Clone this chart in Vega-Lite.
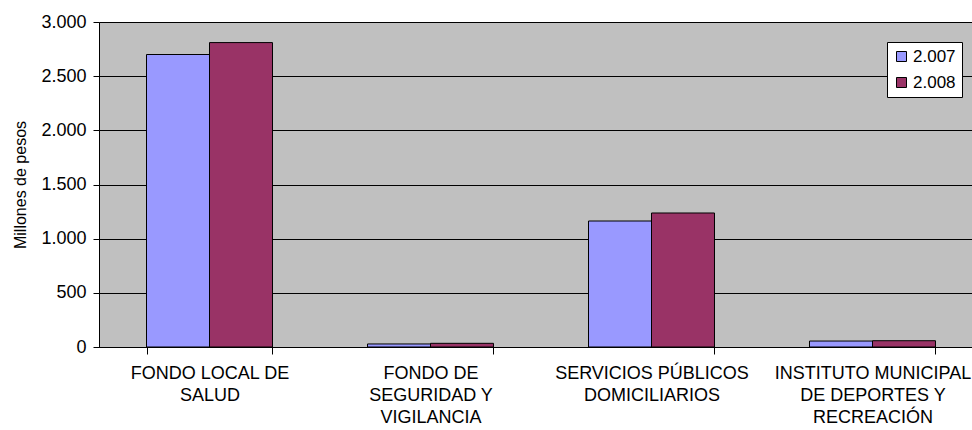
{
  "$schema": "https://vega.github.io/schema/vega-lite/v6.json",
  "width": 884,
  "height": 325,
  "padding": {"left": 12, "top": 13, "right": 0, "bottom": 0},
  "background": "white",
  "data": {
    "values": [
      {"cat": "FONDO LOCAL DE|SALUD", "year": "2.007", "value": 2700},
      {"cat": "FONDO LOCAL DE|SALUD", "year": "2.008", "value": 2810},
      {"cat": "FONDO DE|SEGURIDAD Y|VIGILANCIA", "year": "2.007", "value": 28},
      {"cat": "FONDO DE|SEGURIDAD Y|VIGILANCIA", "year": "2.008", "value": 34},
      {"cat": "SERVICIOS PÚBLICOS|DOMICILIARIOS", "year": "2.007", "value": 1163},
      {"cat": "SERVICIOS PÚBLICOS|DOMICILIARIOS", "year": "2.008", "value": 1237},
      {"cat": "INSTITUTO MUNICIPAL|DE DEPORTES Y|RECREACIÓN", "year": "2.007", "value": 55},
      {"cat": "INSTITUTO MUNICIPAL|DE DEPORTES Y|RECREACIÓN", "year": "2.008", "value": 58}
    ]
  },
  "mark": {"type": "bar", "stroke": "black", "strokeWidth": 1},
  "encoding": {
    "x": {
      "field": "cat",
      "type": "nominal",
      "sort": ["FONDO LOCAL DE|SALUD", "FONDO DE|SEGURIDAD Y|VIGILANCIA", "SERVICIOS PÚBLICOS|DOMICILIARIOS", "INSTITUTO MUNICIPAL|DE DEPORTES Y|RECREACIÓN"],
      "scale": {"paddingInner": 0.43, "paddingOuter": 0.215},
      "axis": {
        "title": null,
        "labelAngle": 0,
        "labelExpr": "split(datum.label, '|')",
        "labelFont": "Liberation Sans",
        "labelFontSize": 18,
        "labelLineHeight": 22,
        "labelColor": "black",
        "labelPadding": 10,
        "labelBaseline": "top",
        "labelOverlap": false,
        "labelLimit": 0,
        "tickBand": "extent",
        "ticks": true,
        "tickSize": 7,
        "tickColor": "black",
        "domainColor": "black",
        "grid": false
      }
    },
    "xOffset": {"field": "year", "type": "nominal", "sort": ["2.007", "2.008"]},
    "y": {
      "field": "value",
      "type": "quantitative",
      "scale": {"domain": [0, 3000]},
      "axis": {
        "title": "Millones de pesos",
        "titleFont": "Liberation Sans",
        "titleFontSize": 16,
        "titleFontWeight": "normal",
        "titleColor": "black",
        "titlePadding": 12,
        "values": [0, 500, 1000, 1500, 2000, 2500, 3000],
        "labelExpr": "replace(format(datum.value, ','), ',', '.')",
        "labelFont": "Liberation Sans",
        "labelFontSize": 18,
        "labelColor": "black",
        "labelPadding": 7,
        "tickSize": 6,
        "tickColor": "black",
        "domainColor": "black",
        "grid": true,
        "gridColor": "black",
        "gridWidth": 1,
        "gridOpacity": 1
      }
    },
    "color": {
      "field": "year",
      "type": "nominal",
      "scale": {"domain": ["2.007", "2.008"], "range": ["#9999FF", "#993366"]},
      "legend": {
        "title": null,
        "orient": "none",
        "legendX": 788,
        "legendY": 20,
        "fillColor": "white",
        "strokeColor": "black",
        "padding": 6,
        "symbolType": "square",
        "symbolSize": 100,
        "symbolStrokeColor": "black",
        "symbolStrokeWidth": 1,
        "symbolOpacity": 1,
        "labelFont": "Liberation Sans",
        "labelFontSize": 17,
        "labelColor": "black",
        "labelOffset": 3,
        "rowPadding": 8
      }
    }
  },
  "config": {
    "view": {"fill": "#C0C0C0", "stroke": "#808080"},
    "axis": {"domainWidth": 1, "tickWidth": 1}
  }
}
